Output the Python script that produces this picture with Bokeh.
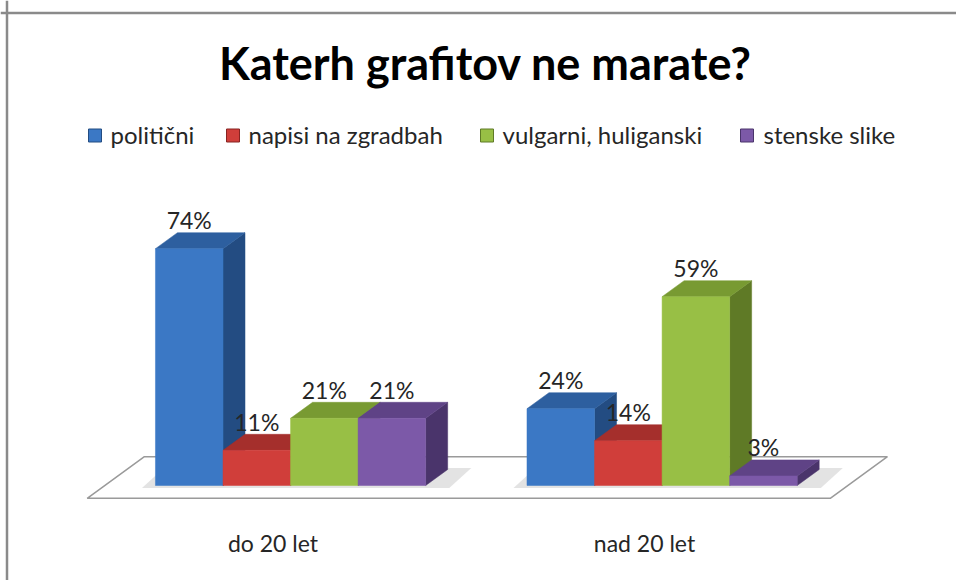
from bokeh.plotting import figure
from bokeh.models import Range1d, Span
from bokeh.core.properties import value
from bokeh.embed import file_html
from bokeh.resources import INLINE

# ---- data ----
title_text = "Katerh grafitov ne marate?"
categories = ["do 20 let", "nad 20 let"]
series_names = ["politični", "napisi na zgradbah", "vulgarni, huliganski", "stenske slike"]
politicni = [74, 24]
napisi = [11, 14]
vulgarni = [21, 59]
stenske = [21, 3]
series_values = [politicni, napisi, vulgarni, stenske]

# ---- style ----
front_cols = ["#3b78c5", "#d03e3a", "#98bf45", "#7c59a8"]
top_cols = ["#2d5f9f", "#a52f2c", "#789a32", "#5f4386"]
side_cols = ["#234c82", "#872321", "#5f7a26", "#4a346b"]

W, H = 956, 580
SX, SY = 67.55, 3.2          # px per x-unit, px per percent
X0PX, Y0PX = 104.3, 485.0    # screen position of (0, 0)
GROUP = 5.5                  # group width in bar widths (4 bars + 150% gap)
GAP = 1.5
DX, DY = 22 / SX, 16 / SY    # bar depth
FL_F, FL_B = -0.8, 1.8       # floor front/back as multiples of bar depth


def px2x(px):
    return (px - X0PX) / SX


def px2y(py):
    return (Y0PX - py) / SY


p = figure(width=W, height=H, output_backend="svg", toolbar_location=None,
           x_range=Range1d(px2x(0), px2x(W)), y_range=Range1d(px2y(H), px2y(0)),
           x_axis_location=None, y_axis_location=None, min_border=0)
p.grid.visible = False
p.outline_line_color = None
p.background_fill_color = "white"
p.border_fill_color = "white"

# frame border (top & left visible in the reference)
p.add_layout(Span(location=px2y(12.5), dimension="width", line_color="#8a8a8a", line_width=2.5))
p.add_layout(Span(location=px2x(6.5), dimension="height", line_color="#8a8a8a", line_width=2.5))

# floor
ncat = len(categories)
xl, xr = 0.0, ncat * GROUP
p.patch([xl + FL_F * DX, xr + FL_F * DX, xr + FL_B * DX, xl + FL_B * DX],
        [FL_F * DY, FL_F * DY, FL_B * DY, FL_B * DY],
        fill_color="white", line_color="#9a9a9a", line_width=1.5)

# soft shadow under each group
shx, shy = [], []
for g in range(ncat):
    gl = g * GROUP + GAP / 2
    gr = gl + len(series_values)
    shx.append([gl - 0.2, gr + 0.35, gr + 0.35 + DX, gl - 0.2 + DX])
    shy.append([-0.8, -0.8, DY + 0.5, DY + 0.5])
p.patches(shx, shy, fill_color="#b0b0b0", fill_alpha=0.35, line_color=None)

# bars
for s, vals in enumerate(series_values):
    fx, fy, tx, ty, sx_, sy_ = [], [], [], [], [], []
    for g, v in enumerate(vals):
        l = g * GROUP + GAP / 2 + s
        r = l + 1
        fx.append([l, r, r, l]); fy.append([0, 0, v, v])
        tx.append([l, r, r + DX, l + DX]); ty.append([v, v, v + DY, v + DY])
        sx_.append([r, r + DX, r + DX, r]); sy_.append([0, DY, v + DY, v])
    p.patches(sx_, sy_, fill_color=side_cols[s], line_color=side_cols[s], line_width=0.5)
    p.patches(tx, ty, fill_color=top_cols[s], line_color=top_cols[s], line_width=0.5)
    p.patches(fx, fy, fill_color=front_cols[s], line_color=front_cols[s], line_width=0.5)

# data labels
lx, ly, lt = [], [], []
for s, vals in enumerate(series_values):
    for g, v in enumerate(vals):
        lx.append(g * GROUP + GAP / 2 + s + 0.5)
        ly.append(v + 9.0)
        lt.append(f"{v}%")
p.text(x=lx, y=ly, text=lt, text_align="center", text_baseline="alphabetic",
       text_font=value("Lato"), text_font_size="23px", text_color="#262626")

# category labels
cx = [g * GROUP + GROUP / 2 + FL_F * DX for g in range(ncat)]
p.text(x=cx, y=[px2y(542)] * ncat, text=categories, text_align="center",
       text_baseline="alphabetic", text_font=value("Lato"), text_font_size="23px",
       text_color="#262626")

# title
p.text(x=[px2x(485)], y=[px2y(62)], text=[title_text], text_align="center",
       text_baseline="alphabetic", text_font=value("Lato"), text_font_style="bold",
       text_font_size="45px", text_color="#000000")

# legend
leg_marker_px = [88, 226, 480, 740]
leg_text_px = [110, 248, 502, 763]
for s, name in enumerate(series_names):
    p.rect(x=[px2x(leg_marker_px[s] + 6.5)], y=[px2y(135)], width=13 / SX, height=13 / SY,
           fill_color=front_cols[s], line_color=side_cols[s], line_width=1)
p.text(x=[px2x(v) for v in leg_text_px], y=[px2y(134)] * 4, text=series_names,
       text_align="left", text_baseline="alphabetic", text_font=value("Lato"),
       text_font_size="24px", text_color="#262626")

open("out.html", "w").write(file_html(p, INLINE))
